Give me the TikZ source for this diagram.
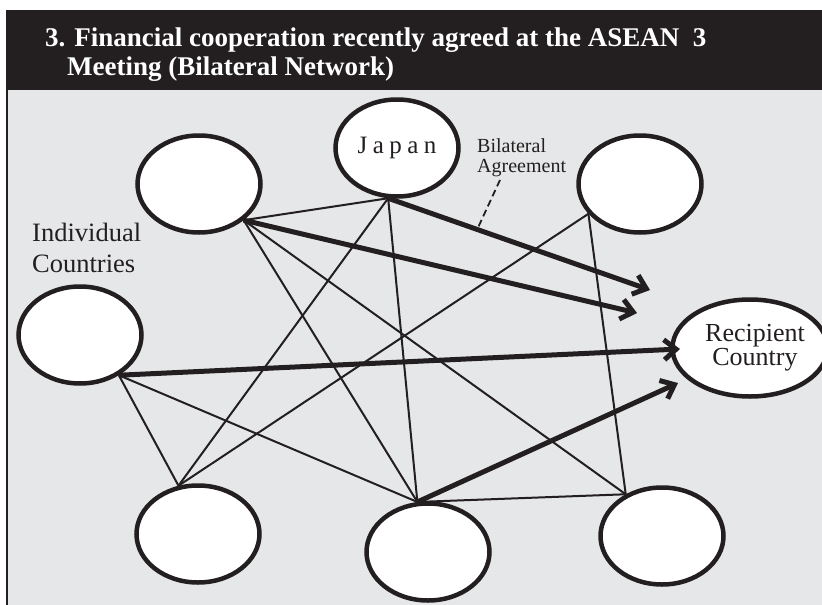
\documentclass[tikz,border=0pt]{standalone}
\usepackage{fontspec}
\setmainfont{Liberation Serif}
\usetikzlibrary{arrows.meta,shapes.geometric,calc}
\definecolor{ink}{HTML}{231F20}
\definecolor{panel}{HTML}{E6E7E8}
\begin{document}
\begin{tikzpicture}[x=1pt,y=-1pt,
  country/.style={ellipse, draw=ink, line width=4.5pt, fill=white,
    minimum width=123pt, minimum height=97pt, inner sep=0pt, text=ink},
  link/.style={draw=ink, line width=2pt},
  flow/.style={draw=ink, line width=5pt, -{Straight Barb[length=12pt,width=20pt]}},
  lbl/.style={text=ink, inner sep=0pt, align=left},
]
% canvas
\useasboundingbox (0,0) rectangle (822,605);
\fill[white] (0,0) rectangle (822,605);
\fill[ink] (6,10) rectangle (822,90);
\fill[panel] (7,90) rectangle (822,605);
\draw[ink, line width=1.8pt] (7,90) -- (7,605);

% title
\node[text=white, inner sep=0pt, anchor=base west, align=left,
  font=\bfseries\fontsize{27}{29}\selectfont] (title) at (45,75)
  {3. Financial cooperation recently agreed at the ASEAN\ \ 3\\\hspace*{22pt}Meeting (Bilateral Network)};

% countries
\node[country] (A) at (199,184) {};
\node[country, font=\fontsize{25}{30}\selectfont\addfontfeature{LetterSpace=22}] (J) at (397,148) {Japan};
\node[country] (TR) at (640,184) {};
\node[country] (L) at (80,335) {};
\node[country, align=center, font=\fontsize{26}{24}\selectfont] (R) at (750,348) {\hspace*{10pt}Recipient\\\hspace*{10pt}Country};
\node[country] (BL) at (198,534) {};
\node[country] (BM) at (428,552) {};
\node[country] (BR) at (662,536) {};

% labels
\node[lbl, anchor=north west, font=\fontsize{26.5}{31}\selectfont] (ic) at (32,223) {Individual\\Countries};
\node[lbl, anchor=north west, font=\fontsize{20}{20}\selectfont] (ba) at (477,138) {Bilateral\\Agreement};

% thin bilateral links
\draw[link] (A.-39) -- (J.-100);
\draw[link] (A.-39) -- (BM.102);
\draw[link] (A.-39) -- (BR.131);
\draw[link] (J.-100) -- (BL.112);
\draw[link] (J.-100) -- (BM.102);
\draw[link] (TR.-150) -- (BL.112);
\draw[link] (TR.-150) -- (BR.131);
\draw[link] (L.-46) -- (BL.112);
\draw[link] (L.-46) -- (BM.102);
\draw[link] (BM.102) -- (BR.131);

% thick flows
\coordinate (t1) at (650,290);
\coordinate (t2) at (637,313);
\coordinate (t3) at (680,349);
\coordinate (t4) at (678,383);
\draw[flow] (J.-100) -- (t1);
\draw[flow] (A.-39) -- (t2);
\draw[flow] (L.-46) -- (t3);
\draw[flow] (BM.102) -- (t4);

% dashed pointer
\coordinate (d0) at (500,180);
\coordinate (d1) at ($(J.-100)!0.34!(t1)$);
\draw[ink, line width=1.8pt, dash pattern=on 7pt off 4pt] (d0) -- (d1);
\end{tikzpicture}
\end{document}
